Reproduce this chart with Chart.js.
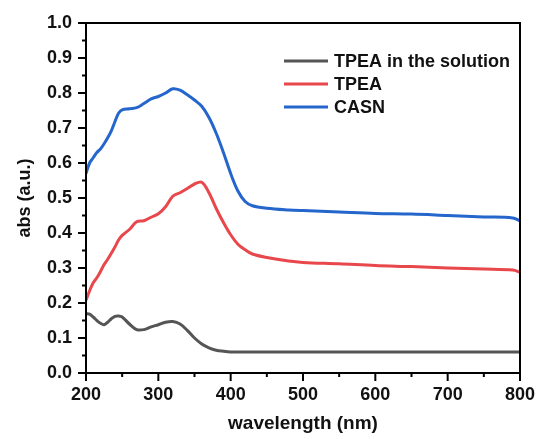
<!DOCTYPE html>
<html>
<head>
<meta charset="utf-8">
<script src="https://cdn.jsdelivr.net/npm/chart.js@4/dist/chart.umd.min.js"></script>
<style>
  body { margin: 0; background: #fff; }
  canvas { display: block; }
</style>
</head>
<body>
<canvas id="myChart" width="542" height="439"></canvas>
<script>
const wavelength = [200, 205, 210, 215, 220, 225, 230, 235, 240, 245, 250, 260, 270, 280, 290, 300, 310, 320, 330, 340, 350, 360, 370, 380, 390, 400, 410, 420, 430, 450, 480, 500, 550, 600, 650, 700, 750, 790, 800];

const tpeaSolution = [0.170, 0.168, 0.160, 0.150, 0.142, 0.138, 0.145, 0.155, 0.162, 0.163, 0.160, 0.140, 0.124, 0.124, 0.132, 0.138, 0.145, 0.147, 0.140, 0.122, 0.100, 0.083, 0.072, 0.065, 0.062, 0.060, 0.060, 0.060, 0.060, 0.060, 0.060, 0.060, 0.060, 0.060, 0.060, 0.060, 0.060, 0.060, 0.060];

const tpea = [0.208, 0.235, 0.258, 0.272, 0.290, 0.310, 0.325, 0.342, 0.360, 0.380, 0.393, 0.410, 0.432, 0.435, 0.445, 0.455, 0.475, 0.505, 0.515, 0.527, 0.540, 0.545, 0.515, 0.470, 0.430, 0.395, 0.368, 0.352, 0.340, 0.330, 0.320, 0.316, 0.312, 0.307, 0.304, 0.300, 0.297, 0.294, 0.288];

const casn = [0.570, 0.600, 0.615, 0.630, 0.640, 0.655, 0.672, 0.692, 0.718, 0.742, 0.752, 0.755, 0.758, 0.770, 0.783, 0.790, 0.800, 0.812, 0.808, 0.795, 0.780, 0.762, 0.730, 0.685, 0.630, 0.570, 0.520, 0.490, 0.478, 0.471, 0.466, 0.464, 0.460, 0.456, 0.454, 0.450, 0.446, 0.443, 0.435];

const seriesNames = ["TPEA in the solution", "TPEA", "CASN"];
const seriesColors = ["#555555", "#e8474b", "#2566cc"];

const xMajor = [200, 300, 400, 500, 600, 700, 800];
const xMinor = [250, 350, 450, 550, 650, 750];
const yMajor = [0, 0.1, 0.2, 0.3, 0.4, 0.5, 0.6, 0.7, 0.8, 0.9, 1.0];
const yMinor = [0.05, 0.15, 0.25, 0.35, 0.45, 0.55, 0.65, 0.75, 0.85, 0.95];

const FONT = "'Liberation Sans', Arial, sans-serif";

// frame, outward ticks and the legend box in the top right
const framePlugin = {
  id: "frame",
  afterDraw: chart => {
    const ctx = chart.ctx;
    const area = chart.chartArea;
    const xs = chart.scales.x;
    const ys = chart.scales.y;
    ctx.save();
    ctx.strokeStyle = "#000";
    ctx.lineWidth = 2;
    ctx.strokeRect(area.left, area.top, area.right - area.left, area.bottom - area.top);

    const tick = (x1, y1, x2, y2) => {
      ctx.beginPath();
      ctx.moveTo(x1, y1);
      ctx.lineTo(x2, y2);
      ctx.stroke();
    };
    xMajor.forEach(v => { const p = xs.getPixelForValue(v); tick(p, area.bottom, p, area.bottom + 8); });
    xMinor.forEach(v => { const p = xs.getPixelForValue(v); tick(p, area.bottom, p, area.bottom + 4); });
    yMajor.forEach(v => { const p = ys.getPixelForValue(v); tick(area.left, p, area.left - 8, p); });
    yMinor.forEach(v => { const p = ys.getPixelForValue(v); tick(area.left, p, area.left - 4, p); });

    // legend
    const lx = area.right - 236;
    const ly = area.top + 38;
    ctx.font = "bold 18px " + FONT;
    ctx.textBaseline = "middle";
    ctx.textAlign = "left";
    ctx.lineWidth = 3;
    chart.data.datasets.forEach((ds, i) => {
      const y = ly + i * 23;
      ctx.strokeStyle = ds.borderColor;
      tick(lx, y, lx + 44, y);
      ctx.fillStyle = "#111";
      ctx.fillText(ds.label, lx + 50, y + 1);
    });
    ctx.restore();
  }
};

document.addEventListener("DOMContentLoaded", () => {
  const ctx = document.getElementById("myChart").getContext("2d");

  const datasets = [tpeaSolution, tpea, casn].map((vals, i) => ({
    label: seriesNames[i],
    data: wavelength.map((w, j) => ({ x: w, y: vals[j] })),
    borderColor: seriesColors[i],
    backgroundColor: seriesColors[i],
    borderWidth: 3,
    pointRadius: 0,
    tension: 0.35,
    fill: false
  }));

  new Chart(ctx, {
    type: "line",
    data: { datasets: datasets },
    options: {
      responsive: false,
      animation: false,
      layout: { padding: { left: 10, top: 23, right: 22, bottom: 0 } },
      plugins: {
        legend: { display: false },
        tooltip: { enabled: false }
      },
      scales: {
        x: {
          type: "linear",
          min: 200,
          max: 800,
          afterFit: s => {
            s.height = 66;
            s.paddingLeft = 0;
            s.paddingRight = 0;
          },
          afterBuildTicks: s => { s.ticks = xMajor.map(v => ({ value: v })); },
          grid: { display: true, drawOnChartArea: false, drawTicks: false },
          border: { display: false },
          ticks: {
            padding: 11,
            color: "#111",
            font: { family: FONT, size: 18, weight: "bold" },
            callback: v => String(v)
          },
          title: {
            display: true,
            text: "wavelength (nm)",
            color: "#111",
            padding: { top: 6 },
            font: { family: FONT, size: 19, weight: "bold" }
          }
        },
        y: {
          min: 0,
          max: 1,
          afterFit: s => {
            s.width = 76;
            s.paddingTop = 0;
            s.paddingBottom = 0;
          },
          afterBuildTicks: s => { s.ticks = yMajor.map(v => ({ value: v })); },
          grid: { display: true, drawOnChartArea: false, drawTicks: false },
          border: { display: false },
          ticks: {
            padding: 14,
            color: "#111",
            font: { family: FONT, size: 18, weight: "bold" },
            callback: v => Number(v).toFixed(1)
          },
          title: {
            display: true,
            text: "abs (a.u.)",
            color: "#111",
            padding: { bottom: 6 },
            font: { family: FONT, size: 18, weight: "bold" }
          }
        }
      }
    },
    plugins: [framePlugin]
  });
});
</script>
</body>
</html>
